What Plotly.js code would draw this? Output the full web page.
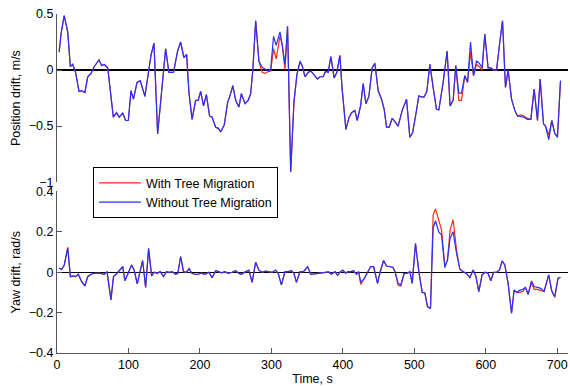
<!DOCTYPE html>
<html>
<head>
<meta charset="utf-8">
<script src="https://cdn.plot.ly/plotly-3.0.1.min.js"></script>
<style>html,body{margin:0;padding:0;background:#fff;}#chart{width:570px;height:386px;}</style>
</head>
<body>
<div id="chart"></div>
<script>
// ---- Position drift (top) ----
const timePos = [
  3, 5.6, 10, 15, 18.7, 22, 26, 30.8, 34.5, 39,
  43, 47.5, 52, 58.7, 62.5, 66, 71, 74, 78.8, 83.4,
  87, 92, 96, 99.8, 103.5, 107, 112, 116.5, 123, 131.5,
  135.7, 140.8, 146, 152, 156.6, 163, 168.8, 173, 177.6, 181.4,
  184.6, 189, 194, 197.6, 201, 205, 209, 213.5, 217, 222,
  225.6, 229, 234, 238.7, 242, 246, 250, 254.5, 258, 263,
  267.5, 271, 274, 278, 282.5, 287, 291, 296.5, 299, 303,
  306.6, 312, 315, 319, 322.6, 327, 331.5, 335.7, 340, 343,
  347, 351.6, 355.4, 359.4, 364.6, 367.8, 372.4, 375.8, 379.4, 383.2,
  387.8, 391.6, 395.8, 399, 404.2, 408.8, 412.2, 416.8, 420, 424.8,
  428.4, 432.2, 436.4, 441, 444.8, 449.4, 454.1, 457.8, 461.1, 464.8,
  469, 472.7, 477.3, 483, 489.1, 493.7, 497.5, 501.7, 506.3, 510,
  513.7, 517.5, 521.7, 526.3, 531, 534.3, 540.3, 545.9, 550, 554.3,
  558, 562.2, 566, 570.6, 574.4, 578.6, 582.8, 587, 591, 594.8,
  598.6, 603.2, 607, 610.8, 615, 619.6, 623.4, 627.5, 631.2, 636,
  640.6, 644.3, 649, 653.1, 658.3, 663, 667.6, 672.3, 676, 680.7,
  683.5, 688.1, 692.3, 696.5, 700.3, 704.5
];
const posWithout = [
  0.16, 0.32, 0.485, 0.34, 0.03, 0.05, -0.02, -0.19, -0.185, -0.2,
  -0.06, -0.03, 0.03, 0.09, 0.04, 0.05, 0.02, -0.14, -0.42, -0.38,
  -0.42, -0.385, -0.45, -0.45, -0.185, -0.26, -0.11, -0.095, -0.235, 0.13,
  0.24, -0.57, -0.21, 0.19, -0.02, -0.02, 0.17, 0.25, 0.11, 0.14,
  -0.2, -0.44, -0.27, -0.27, -0.19, -0.32, -0.22, -0.41, -0.42, -0.51,
  -0.52, -0.55, -0.49, -0.29, -0.23, -0.14, -0.27, -0.33, -0.21, -0.30,
  -0.27, -0.21, 0.0, 0.44, 0.08, 0.025, 0.01, -0.01, 0.01, 0.30,
  0.22, 0.34, 0.23, 0.05, 0.39, -0.91, -0.29, -0.04, 0.08, 0.04,
  -0.06, -0.02, -0.01, -0.04, -0.08, -0.06, -0.06, -0.01, -0.02, 0.12,
  -0.07, -0.02, 0.13, -0.17, -0.53, -0.42, -0.38, -0.36, -0.45, -0.32,
  -0.12, -0.30, -0.235, 0.02, 0.06, -0.185, -0.26, -0.35, -0.51, -0.51,
  -0.43, -0.46, -0.50, -0.36, -0.26, -0.60, -0.56, -0.41, -0.23, -0.24,
  -0.24, -0.19, 0.05, -0.155, -0.35, -0.355, -0.11, 0.17, -0.32, -0.27,
  0.04, -0.205, -0.205, -0.05, -0.11, 0.25, -0.05, 0.08, 0.06, 0.02,
  0.32, 0.02, 0.02, 0.0, 0.0, 0.25, 0.44, -0.155, 0.0, -0.26,
  -0.36, -0.41, -0.415, -0.42, -0.44, -0.44, -0.17, -0.45, -0.08, -0.48,
  -0.50, -0.62, -0.45, -0.565, -0.60, -0.095
];
const posWith = [
  0.16, 0.32, 0.485, 0.34, 0.03, 0.05, -0.02, -0.19, -0.185, -0.2,
  -0.06, -0.03, 0.03, 0.09, 0.04, 0.05, 0.02, -0.14, -0.42, -0.38,
  -0.42, -0.385, -0.45, -0.45, -0.185, -0.26, -0.11, -0.095, -0.235, 0.13,
  0.24, -0.57, -0.21, 0.19, -0.02, -0.02, 0.17, 0.25, 0.11, 0.14,
  -0.2, -0.44, -0.27, -0.27, -0.19, -0.32, -0.22, -0.41, -0.42, -0.51,
  -0.52, -0.55, -0.49, -0.29, -0.23, -0.14, -0.27, -0.33, -0.21, -0.30,
  -0.27, -0.21, 0.0, 0.44, 0.08, -0.02, -0.03, -0.01, -0.01, 0.19,
  0.10, 0.30, 0.23, 0.0, 0.39, -0.91, -0.29, -0.04, 0.07, 0.04,
  -0.06, -0.02, -0.01, -0.04, -0.08, -0.06, -0.06, -0.01, -0.02, 0.12,
  -0.07, -0.02, 0.13, -0.17, -0.53, -0.42, -0.38, -0.36, -0.45, -0.32,
  -0.12, -0.30, -0.235, 0.02, 0.06, -0.185, -0.26, -0.35, -0.51, -0.51,
  -0.43, -0.46, -0.50, -0.36, -0.26, -0.60, -0.56, -0.41, -0.23, -0.24,
  -0.24, -0.19, 0.05, -0.155, -0.35, -0.355, -0.11, 0.17, -0.32, -0.27,
  0.04, -0.27, -0.27, -0.05, -0.11, 0.16, -0.05, 0.05, 0.03, 0.0,
  0.32, 0.02, 0.02, 0.0, 0.0, 0.25, 0.44, -0.155, 0.0, -0.26,
  -0.36, -0.41, -0.40, -0.41, -0.43, -0.44, -0.17, -0.45, -0.08, -0.48,
  -0.50, -0.58, -0.45, -0.565, -0.59, -0.095
];

// ---- Yaw drift (bottom) ----
const timeYaw = [
  2.8, 6.5, 10.2, 15, 18.7, 22.8, 26, 29.8, 34.5, 39,
  43, 47.5, 53, 60, 66, 70, 75.5, 79, 84, 88.5,
  92, 95, 99.8, 104.4, 108, 112.3, 116, 119.8, 124, 128.2,
  132.4, 136, 140, 144.5, 149, 153, 157, 161, 166, 169,
  173, 177, 181, 185, 188.5, 193, 197.6, 202, 207, 212.6,
  217, 222, 226, 230, 235, 239.6, 245, 250, 254, 258,
  264, 268.5, 273, 278, 282.5, 287, 291.8, 296, 301, 306,
  309.5, 314, 319, 323.5, 328, 331.5, 335, 340, 345, 350.6,
  355, 360, 366, 370, 375, 380, 384, 389, 392.6, 396.5,
  400, 404, 407, 411, 415, 419, 422, 425, 430, 434.5,
  439, 443, 448.5, 452, 457, 461, 465.7, 470, 473, 477.3,
  481, 485.7, 490, 493.7, 497, 501.6, 506.3, 511, 514.7, 518.4,
  522.6, 526.3, 529.6, 534.3, 538, 542.7, 546.4, 550, 554.3, 559,
  563.6, 568, 573, 577.6, 582.2, 586, 590.2, 594.8, 599, 603.2,
  607, 610.8, 615.4, 619.2, 622.8, 626.6, 631.2, 636, 639.6, 643.4,
  647, 651.7, 655.5, 659.2, 663.9, 667.6, 672.3, 677, 681.5, 688,
  692.3, 696.5, 701, 704.5
];
const yawWithout = [
  0.02, 0.015, 0.036, 0.12, -0.022, -0.018, -0.022, -0.01, -0.047, -0.068,
  -0.022, -0.01, -0.005, -0.005, -0.01, 0.003, -0.137, -0.022, -0.005, 0.015,
  0.028, -0.042, 0.003, 0.036, 0.01, -0.058, 0, 0.058, -0.075, 0.115,
  -0.018, 0, -0.005, 0.003, -0.022, 0.003, 0, 0.003, -0.01, -0.005,
  0.078, 0.003, 0, 0.018, -0.005, -0.01, -0.01, -0.005, -0.01, 0,
  -0.027, 0.008, 0.003, -0.003, 0.003, -0.005, 0, 0.008, -0.005, -0.01,
  0.003, 0.01, -0.05, 0.05, 0.01, 0, 0.005, 0.003, 0, 0.01,
  -0.005, -0.063, 0.003, 0.003, 0.008, -0.005, -0.05, 0.003, 0.003, 0.028,
  -0.01, -0.008, -0.005, -0.005, -0.002, 0.002, -0.01, 0.003, -0.015, 0.003,
  0.01, -0.005, 0.003, 0.003, 0.008, -0.01, 0.003, -0.05, -0.03, 0,
  0.028, 0.028, -0.055, 0, 0.058, 0.031, 0.028, 0.025, 0.003, -0.055,
  -0.063, -0.007, -0.005, 0.003, -0.055, 0.14, 0.003, -0.10, -0.103, -0.17,
  -0.18, 0.218, 0.255, 0.198, 0.185, 0.023, 0.061, 0.168, 0.2, 0.094,
  0.016, 0.003, -0.006, -0.027, 0.011, -0.018, -0.096, -0.013, 0.0, -0.006,
  -0.042, 0, 0, 0.011, 0.056, 0.036, -0.055, -0.203, -0.088, -0.10,
  -0.09, -0.084, -0.075, -0.11, -0.043, -0.071, -0.075, -0.08, -0.095, -0.013,
  -0.093, -0.12, -0.03, -0.026
];
const yawWith = [
  0.02, 0.015, 0.036, 0.125, -0.022, -0.018, -0.022, -0.01, -0.047, -0.068,
  -0.022, -0.01, -0.005, -0.005, -0.01, 0.003, -0.137, -0.022, -0.005, 0.015,
  0.028, -0.042, 0.003, 0.036, 0.01, -0.058, 0, 0.058, -0.075, 0.12,
  -0.018, 0, -0.005, 0.003, -0.022, 0.003, 0, 0.003, -0.01, -0.005,
  0.078, 0.003, 0, 0.018, -0.005, -0.01, -0.01, -0.005, -0.01, 0,
  -0.027, 0.008, 0.003, -0.003, 0.003, -0.005, 0, 0.008, -0.005, -0.01,
  0.003, 0.01, -0.05, 0.05, 0.01, 0, 0.005, 0.003, 0, 0.01,
  -0.005, -0.063, 0.003, 0.003, 0.008, -0.005, -0.05, 0.003, 0.003, 0.028,
  -0.01, -0.008, -0.005, -0.005, -0.002, 0.002, -0.01, 0.003, -0.015, 0.003,
  0.01, -0.005, 0.003, 0.003, 0.008, -0.01, 0.003, -0.06, -0.03, 0,
  0.028, 0.028, -0.055, 0, 0.058, 0.031, 0.028, 0.025, 0.003, -0.065,
  -0.068, -0.007, -0.005, 0.003, -0.055, 0.145, 0.003, -0.10, -0.103, -0.17,
  -0.18, 0.284, 0.314, 0.248, 0.21, 0.03, 0.061, 0.21, 0.26, 0.11,
  0.016, 0.003, -0.006, -0.027, 0.011, -0.018, -0.096, -0.013, 0.0, -0.006,
  -0.042, 0, 0, 0.011, 0.056, 0.036, -0.055, -0.203, -0.088, -0.10,
  -0.1, -0.095, -0.075, -0.11, -0.05, -0.085, -0.085, -0.09, -0.095, -0.013,
  -0.093, -0.125, -0.03, -0.026
];

const seriesNames = ['With Tree Migration', 'Without Tree Migration'];
const RED = '#ff2a10', BLUE = '#2233ff';
const FONT = 'Liberation Sans, Arial, Helvetica, sans-serif';

const traces = [
  {x: timePos, y: posWith, xaxis: 'x2', yaxis: 'y2', mode: 'lines', name: seriesNames[0],
   line: {color: RED, width: 1.2}, legendgroup: 'a'},
  {x: timePos, y: posWithout, xaxis: 'x2', yaxis: 'y2', mode: 'lines', name: seriesNames[1],
   line: {color: BLUE, width: 1.2}, legendgroup: 'b'},
  {x: timeYaw, y: yawWith, xaxis: 'x', yaxis: 'y', mode: 'lines', name: seriesNames[0],
   line: {color: RED, width: 1.2}, showlegend: false},
  {x: timeYaw, y: yawWithout, xaxis: 'x', yaxis: 'y', mode: 'lines', name: seriesNames[1],
   line: {color: BLUE, width: 1.2}, showlegend: false}
];

const axCommon = {
  showline: true, linecolor: '#555', linewidth: 1,
  ticks: 'inside', ticklen: 5, tickcolor: '#555', tickwidth: 1,
  showgrid: false, tickfont: {family: FONT, size: 12.5, color: '#000'}
};

const layout = {
  width: 570, height: 386,
  margin: {l: 57, r: 2, t: 14, b: 33},
  paper_bgcolor: '#fff', plot_bgcolor: 'rgba(0,0,0,0)',
  font: {family: FONT, size: 12.5, color: '#000'},
  showlegend: true,
  legend: {
    x: 0.0705, y: 0.548, xanchor: 'left', yanchor: 'top',
    bgcolor: '#fff', bordercolor: '#000', borderwidth: 1, itemwidth: 42,
    font: {family: FONT, size: 12.5, color: '#000'}, tracegroupgap: 0
  },
  xaxis: Object.assign({}, axCommon, {
    domain: [0, 1], range: [0, 715], dtick: 100, tick0: 0, zeroline: false,
    anchor: 'y',
    title: {text: 'Time, s', font: {family: FONT, size: 12.5}, standoff: 2}
  }),
  yaxis: Object.assign({}, axCommon, {
    domain: [0, 0.4765], range: [-0.4, 0.4], dtick: 0.2, tick0: 0,
    zeroline: true, zerolinecolor: '#000', zerolinewidth: 1.2, anchor: 'x',
    title: {text: 'Yaw drift, rad/s', font: {family: FONT, size: 12.5}, standoff: 5}
  }),
  xaxis2: {
    domain: [0, 1], range: [0, 715], visible: false, anchor: 'y2', zeroline: false, showgrid: false
  },
  yaxis2: Object.assign({}, axCommon, {
    domain: [0.504, 1], range: [-1, 0.5], dtick: 0.5, tick0: 0,
    zeroline: true, zerolinecolor: '#000', zerolinewidth: 1.2, anchor: 'x2',
    title: {text: 'Position drift, m/s', font: {family: FONT, size: 12.5}, standoff: 5}
  })
};

Plotly.newPlot('chart', traces, layout, {staticPlot: true, displayModeBar: false});
</script>
</body>
</html>
